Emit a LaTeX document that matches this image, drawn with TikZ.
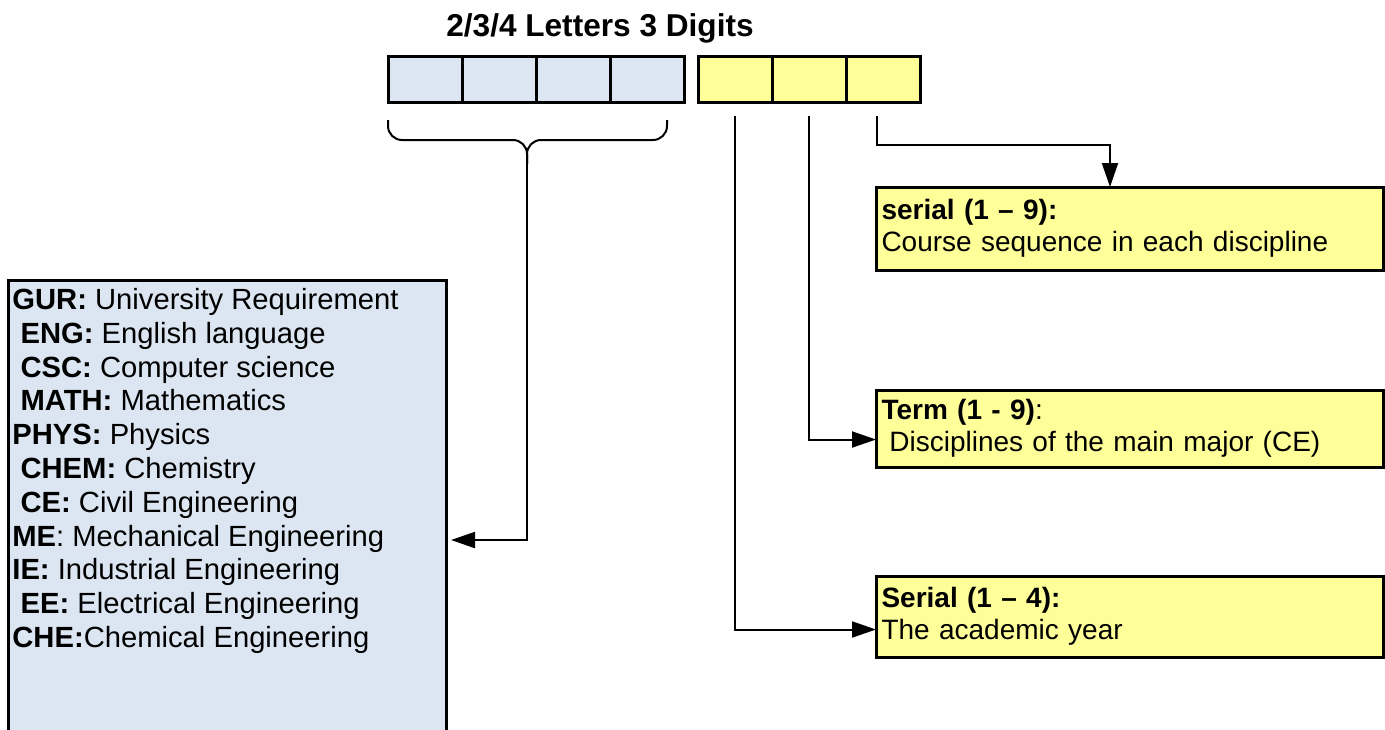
\documentclass[tikz,border=0pt]{standalone}
\usepackage{fontspec}
\setmainfont{Liberation Sans}
\usetikzlibrary{arrows.meta, positioning, calc}
\definecolor{cellblue}{HTML}{DCE6F2}
\definecolor{cellyellow}{HTML}{FFFF99}
\newcommand{\Code}[1]{\textbf{#1}}
\newcommand{\lead}{\hspace*{0.28em}}
\tikzset{
    cell/.style={draw, line width=1.5pt, minimum width=37pt, minimum height=23pt, inner sep=0pt, outer sep=0pt},
    letter/.style={cell, fill=cellblue},
    digit/.style={cell, fill=cellyellow},
    infobox/.style={draw, line width=1.5pt, fill=cellyellow, outer sep=0pt, anchor=north west,
      minimum width=253.5pt, text width=248pt, inner xsep=2pt, inner ysep=0pt, align=left,
      font=\fontsize{14}{16}\selectfont},
    link/.style={line width=1pt, -{Triangle[length=12pt, width=8pt]}},
}

\begin{document}
\begin{tikzpicture}[x=0.5pt, y=-0.5pt]
    \useasboundingbox (0,0) rectangle (1385,729);

    % code cells
    \node[font=\fontsize{15.8}{18}\selectfont\bfseries] (title) at (600,28) {2/3/4 Letters 3 Digits};
    \node[letter] (l1) at (425,79) {};
    \node[letter, right=0pt of l1] (l2) {};
    \node[letter, right=0pt of l2] (l3) {};
    \node[letter, right=0pt of l3] (l4) {};
    \node[digit] (d1) at (735,79) {};
    \node[digit, right=0pt of d1] (d2) {};
    \node[digit, right=0pt of d2] (d3) {};

    % disciplines
    \node[draw, line width=1.5pt, fill=cellblue, outer sep=0pt, anchor=north west,
      minimum width=219pt, minimum height=235pt, inner sep=0pt] (majorBox) at (8,280) {};
    \node[anchor=north west, inner sep=0pt, align=left, font=\fontsize{14.6}{16.9}\selectfont]
      (majorList) at (12,288) {\Code{GUR:} University Requirement\\
      \lead\Code{ENG:} English language\\
      \lead\Code{CSC:} Computer science\\
      \lead\Code{MATH:} Mathematics\\
      \Code{PHYS:} Physics\\
      \lead\Code{CHEM:} Chemistry\\
      \lead\Code{CE:} Civil Engineering\\
      \Code{ME}: Mechanical Engineering\\
      \Code{IE:} Industrial Engineering\\
      \lead\Code{EE:} Electrical Engineering\\
      \Code{CHE:}Chemical Engineering};

    % digit meanings
    \node[infobox, minimum height=41.5pt] (seqBox) at (876,187)
      {\textbf{serial (1 – 9):}\\Course sequence in each discipline};
    \node[infobox, minimum height=38.5pt] (termBox) at (876,390)
      {\textbf{Term (1 - 9)}:\\\lead Disciplines of the main major (CE)};
    \node[infobox, minimum height=40.5pt] (yearBox) at (876,576)
      {\textbf{Serial (1 – 4):}\\The academic year};

    % brace under the letters
    \coordinate (braceL) at (388,120);
    \coordinate (braceR) at (667,120);
    \coordinate (braceTip) at (527,140);
    \coordinate (braceStem) at (527,156);
    \coordinate (majorIn) at ($(majorBox.north east)+(5,260)$);
    \draw[line width=1pt, rounded corners=7pt] (braceL) |- (braceTip) -- ++(0,24);
    \draw[line width=1pt, rounded corners=7pt] (braceR) |- (braceTip) -- ++(0,24);
    \draw[link] (braceStem) |- (majorIn);

    % digits to their meaning
    \coordinate (seqBend) at (1110,145);
    \draw[link, shorten <=7pt] ([xshift=-3pt]d3.south) |- (seqBend) -- (seqBend |- seqBox.north);
    \draw[link, shorten <=7pt] (d2.south) |- ([yshift=-5.5pt]termBox.west);
    \draw[link, shorten <=7pt] (d1.south) |- ([yshift=-6.5pt]yearBox.west);
\end{tikzpicture}
\end{document}
